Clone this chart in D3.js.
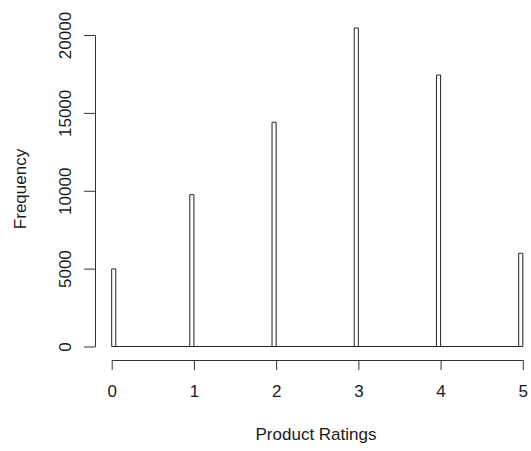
<!DOCTYPE html>
<html>
<head>
<meta charset="utf-8">
<script src="https://cdn.jsdelivr.net/npm/d3@7"></script>
<style>
  body { margin: 0; background: #fff; }
  text { font-family: "Liberation Sans", Arial, sans-serif; }
</style>
</head>
<body>
<div id="chart"></div>
<script>
// histogram counts (only the integer ratings have any values)
const ratings = [0, 1, 2, 3, 4, 5];
const counts = [4980, 9750, 14400, 20450, 17430, 5985];
const xTicks = [0, 1, 2, 3, 4, 5];
const yTicks = [0, 5000, 10000, 15000, 20000];
const binWidth = 0.05;

const width = 531;
const height = 451;

const svg = d3
  .select("#chart")
  .append("svg")
  .attr("width", width)
  .attr("height", height);

const x = d3.scaleLinear().domain([0, 5]).range([111.7, 522.8]);
const y = d3.scaleLinear().domain([0, 20000]).range([346.5, 35]);

// build bins like R's hist(): right closed, first bin includes lowest
const nBins = Math.round(5 / binWidth);
const bins = d3.range(nBins).map((i) => {
  const x0 = i * binWidth;
  const x1 = (i + 1) * binWidth;
  let n = 0;
  ratings.forEach((r, j) => {
    if ((r > x0 + 1e-9 && r <= x1 + 1e-9) || (i === 0 && r === 0)) n += counts[j];
  });
  return { x0, x1, n };
});

// drawn as paths so empty bins still show up as a line on the baseline
svg
  .append("g")
  .selectAll("path")
  .data(bins)
  .join("path")
  .attr("d", (d) => {
    const p = d3.path();
    p.moveTo(x(d.x0), y(0));
    p.lineTo(x(d.x0), y(d.n));
    p.lineTo(x(d.x1), y(d.n));
    p.lineTo(x(d.x1), y(0));
    p.closePath();
    return p.toString();
  })
  .attr("fill", "#fff")
  .attr("stroke", "#222")
  .attr("stroke-width", 1);

// x axis
const xAxis = svg
  .append("g")
  .attr("transform", "translate(0,360)")
  .call(d3.axisBottom(x).tickValues(xTicks).tickSize(10).tickSizeOuter(0).tickFormat(d3.format("d")));

xAxis.selectAll("text").attr("y", 37).attr("dy", null);

// y axis
const yAxis = svg
  .append("g")
  .attr("transform", "translate(95,0)")
  .call(d3.axisLeft(y).tickValues(yTicks).tickSize(11).tickSizeOuter(0).tickFormat(d3.format("d")));

yAxis
  .selectAll("text")
  .attr("x", null)
  .attr("dy", null)
  .attr("text-anchor", "middle")
  .attr("transform", "translate(-24,0) rotate(-90)");

svg.selectAll(".tick text").attr("font-size", 17).attr("fill", "#1a1a1a");
svg.selectAll(".domain, .tick line").attr("stroke", "#333");
svg.selectAll(".tick text").attr("font-family", "Liberation Sans, Arial, sans-serif");

// axis titles
svg
  .append("text")
  .attr("x", 316)
  .attr("y", 440)
  .attr("text-anchor", "middle")
  .attr("font-size", 17)
  .attr("fill", "#1a1a1a")
  .text("Product Ratings");

svg
  .append("text")
  .attr("transform", "translate(26,189) rotate(-90)")
  .attr("text-anchor", "middle")
  .attr("font-size", 17)
  .attr("fill", "#1a1a1a")
  .text("Frequency");
</script>
</body>
</html>
